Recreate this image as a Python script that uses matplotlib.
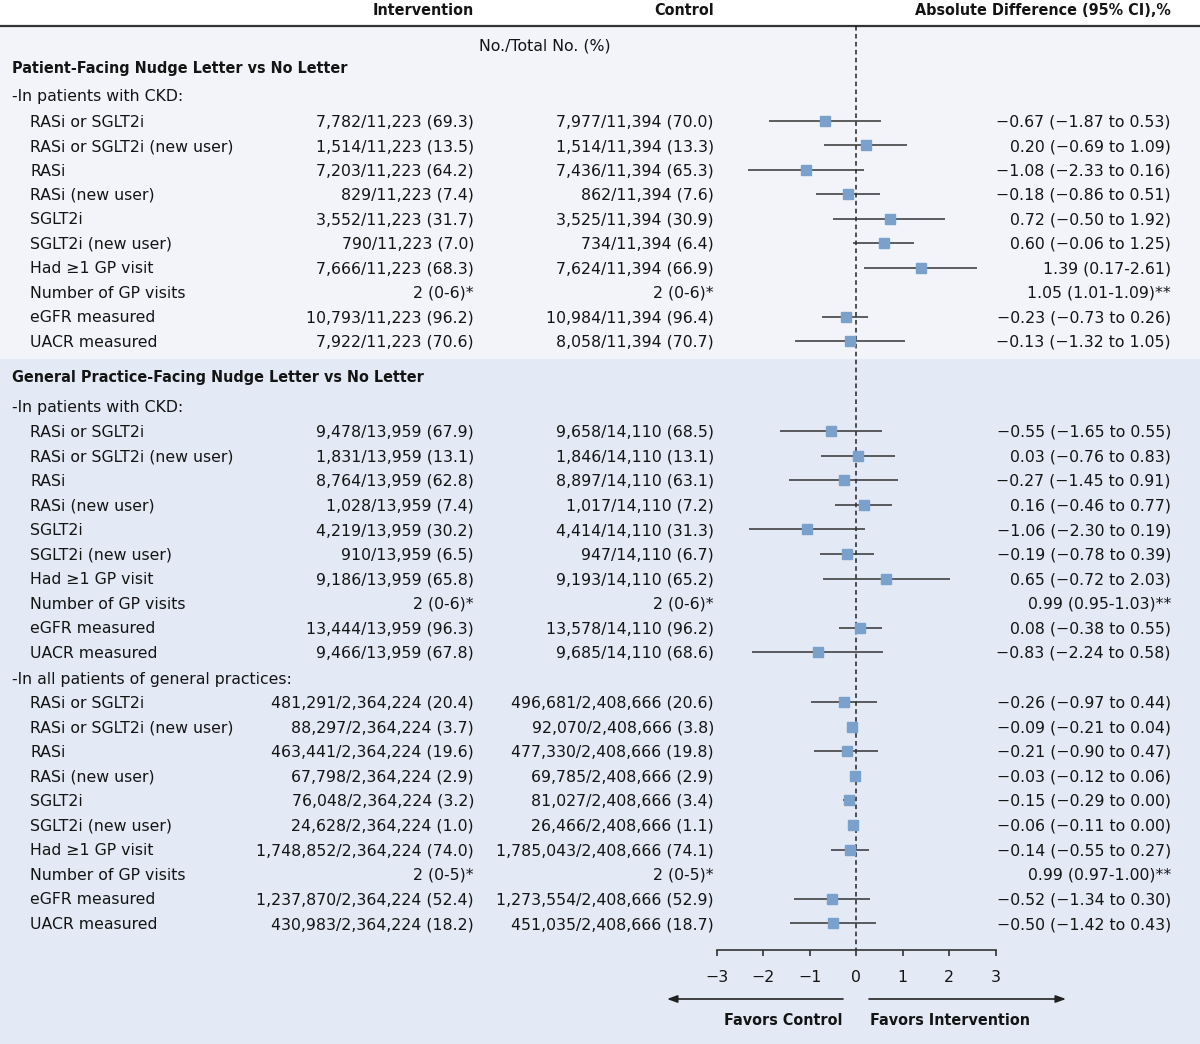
"""
plot.py - Forest plot of nudge letter trial outcomes
"""

import matplotlib
matplotlib.use("Agg")
import matplotlib.pyplot as plt
from matplotlib.patches import Rectangle
from matplotlib import font_manager

# ---- data ----
outcomes = ["RASi or SGLT2i", "RASi or SGLT2i (new user)", "RASi", "RASi (new user)",
            "SGLT2i", "SGLT2i (new user)", "Had \u22651 GP visit", "Number of GP visits",
            "eGFR measured", "UACR measured"]

# ratio outcome (median visits) is not drawn on the difference scale
plotted = [True, True, True, True, True, True, True, False, True, True]

group_titles = ["Patient-Facing Nudge Letter vs No Letter",
                "General Practice-Facing Nudge Letter vs No Letter"]
subgroups = ["-In patients with CKD:", "-In patients with CKD:",
             "-In all patients of general practices:"]

int1 = ["7,782/11,223 (69.3)", "1,514/11,223 (13.5)", "7,203/11,223 (64.2)", "829/11,223 (7.4)",
        "3,552/11,223 (31.7)", "790/11,223 (7.0)", "7,666/11,223 (68.3)", "2 (0-6)*",
        "10,793/11,223 (96.2)", "7,922/11,223 (70.6)"]
ctl1 = ["7,977/11,394 (70.0)", "1,514/11,394 (13.3)", "7,436/11,394 (65.3)", "862/11,394 (7.6)",
        "3,525/11,394 (30.9)", "734/11,394 (6.4)", "7,624/11,394 (66.9)", "2 (0-6)*",
        "10,984/11,394 (96.4)", "8,058/11,394 (70.7)"]
est1 = [-0.67, 0.20, -1.08, -0.18, 0.72, 0.60, 1.39, 1.05, -0.23, -0.13]
lo1 = [-1.87, -0.69, -2.33, -0.86, -0.50, -0.06, 0.17, 1.01, -0.73, -1.32]
hi1 = [0.53, 1.09, 0.16, 0.51, 1.92, 1.25, 2.61, 1.09, 0.26, 1.05]
ci1 = ["\u22120.67 (\u22121.87 to 0.53)", "0.20 (\u22120.69 to 1.09)", "\u22121.08 (\u22122.33 to 0.16)",
       "\u22120.18 (\u22120.86 to 0.51)", "0.72 (\u22120.50 to 1.92)", "0.60 (\u22120.06 to 1.25)",
       "1.39 (0.17-2.61)", "1.05 (1.01-1.09)**", "\u22120.23 (\u22120.73 to 0.26)",
       "\u22120.13 (\u22121.32 to 1.05)"]

int2 = ["9,478/13,959 (67.9)", "1,831/13,959 (13.1)", "8,764/13,959 (62.8)", "1,028/13,959 (7.4)",
        "4,219/13,959 (30.2)", "910/13,959 (6.5)", "9,186/13,959 (65.8)", "2 (0-6)*",
        "13,444/13,959 (96.3)", "9,466/13,959 (67.8)"]
ctl2 = ["9,658/14,110 (68.5)", "1,846/14,110 (13.1)", "8,897/14,110 (63.1)", "1,017/14,110 (7.2)",
        "4,414/14,110 (31.3)", "947/14,110 (6.7)", "9,193/14,110 (65.2)", "2 (0-6)*",
        "13,578/14,110 (96.2)", "9,685/14,110 (68.6)"]
est2 = [-0.55, 0.03, -0.27, 0.16, -1.06, -0.19, 0.65, 0.99, 0.08, -0.83]
lo2 = [-1.65, -0.76, -1.45, -0.46, -2.30, -0.78, -0.72, 0.95, -0.38, -2.24]
hi2 = [0.55, 0.83, 0.91, 0.77, 0.19, 0.39, 2.03, 1.03, 0.55, 0.58]
ci2 = ["\u22120.55 (\u22121.65 to 0.55)", "0.03 (\u22120.76 to 0.83)", "\u22120.27 (\u22121.45 to 0.91)",
       "0.16 (\u22120.46 to 0.77)", "\u22121.06 (\u22122.30 to 0.19)", "\u22120.19 (\u22120.78 to 0.39)",
       "0.65 (\u22120.72 to 2.03)", "0.99 (0.95-1.03)**", "0.08 (\u22120.38 to 0.55)",
       "\u22120.83 (\u22122.24 to 0.58)"]

int3 = ["481,291/2,364,224 (20.4)", "88,297/2,364,224 (3.7)", "463,441/2,364,224 (19.6)",
        "67,798/2,364,224 (2.9)", "76,048/2,364,224 (3.2)", "24,628/2,364,224 (1.0)",
        "1,748,852/2,364,224 (74.0)", "2 (0-5)*", "1,237,870/2,364,224 (52.4)",
        "430,983/2,364,224 (18.2)"]
ctl3 = ["496,681/2,408,666 (20.6)", "92,070/2,408,666 (3.8)", "477,330/2,408,666 (19.8)",
        "69,785/2,408,666 (2.9)", "81,027/2,408,666 (3.4)", "26,466/2,408,666 (1.1)",
        "1,785,043/2,408,666 (74.1)", "2 (0-5)*", "1,273,554/2,408,666 (52.9)",
        "451,035/2,408,666 (18.7)"]
est3 = [-0.26, -0.09, -0.21, -0.03, -0.15, -0.06, -0.14, 0.99, -0.52, -0.50]
lo3 = [-0.97, -0.21, -0.90, -0.12, -0.29, -0.11, -0.55, 0.97, -1.34, -1.42]
hi3 = [0.44, 0.04, 0.47, 0.06, 0.00, 0.00, 0.27, 1.00, 0.30, 0.43]
ci3 = ["\u22120.26 (\u22120.97 to 0.44)", "\u22120.09 (\u22120.21 to 0.04)", "\u22120.21 (\u22120.90 to 0.47)",
       "\u22120.03 (\u22120.12 to 0.06)", "\u22120.15 (\u22120.29 to 0.00)", "\u22120.06 (\u22120.11 to 0.00)",
       "\u22120.14 (\u22120.55 to 0.27)", "0.99 (0.97-1.00)**", "\u22120.52 (\u22121.34 to 0.30)",
       "\u22120.50 (\u22121.42 to 0.43)"]

x_ticks = [-3, -2, -1, 0, 1, 2, 3]

# ---- style ----
W, H = 1200, 1044
TOP_BG = "#f2f4f9"
BOT_BG = "#e3eaf5"
MARK = "#7aa0cc"
INK = "#141414"
FS = 11.3

# bold headers use a narrow bold face if one is around
cond = font_manager.FontProperties(family="DejaVu Sans", weight="bold", stretch="condensed")
if "Condensed" in font_manager.findfont(cond):
    BOLD = dict(family="DejaVu Sans", weight="bold", stretch="condensed", fontsize=11.5)
else:
    BOLD = dict(family="Roboto", weight="bold", fontsize=12.3)

fig = plt.figure(figsize=(W / 100, H / 100), dpi=100)
ax = fig.add_axes([0, 0, 1, 1])
ax.set_xlim(0, W)
ax.set_ylim(H, 0)
ax.axis("off")

# backgrounds and header rule
ax.add_patch(Rectangle((0, 26), W, 333, color=TOP_BG, lw=0, zorder=0))
ax.add_patch(Rectangle((0, 359), W, H - 359, color=BOT_BG, lw=0, zorder=0))
ax.hlines(26, 0, W, color="#333333", lw=1.6, zorder=2)

X_LABEL, X_SUB, X_INT, X_CTL, X_CI = 30, 12, 474, 714, 1171
BASE = 5.6  # half cap-height, to put text baselines on row centres


def put(x, y, s, ha="left", bold=False):
    kw = BOLD if bold else dict(fontsize=FS)
    ax.text(x, y + BASE, s, ha=ha, va="baseline", color=INK, **kw)


put(X_INT, 9, "Intervention", ha="right", bold=True)
put(X_CTL, 9, "Control", ha="right", bold=True)
put(X_CI, 9, "Absolute Difference (95% CI),%", ha="right", bold=True)
put(545, 45, "No./Total No. (%)", ha="center")

# row layout: (title, title_y, subgroup_y, first_row_y, step, ...)
blocks = [
    (group_titles[0], 67, 95, 121, 24.45, int1, ctl1, est1, lo1, hi1, ci1, subgroups[0]),
    (group_titles[1], 376, 406, 431, 24.6, int2, ctl2, est2, lo2, hi2, ci2, subgroups[1]),
    (None, None, 678, 702, 24.6, int3, ctl3, est3, lo3, hi3, ci3, subgroups[2]),
]

# forest axes: spans exactly the -3..3 scale
x0, x1 = 717, 995.5
fax = fig.add_axes([x0 / W, 0, (x1 - x0) / W, 1])
fax.set_xlim(x_ticks[0], x_ticks[-1])
fax.set_ylim(H, 0)
fax.patch.set_alpha(0)
for s in ["left", "right", "top"]:
    fax.spines[s].set_visible(False)
fax.spines["bottom"].set_position(("data", 950))
fax.spines["bottom"].set_linewidth(1.2)
fax.spines["bottom"].set_color("#333333")
fax.set_yticks([])
fax.set_xticks(x_ticks)
fax.tick_params(axis="x", direction="out", length=4.5, width=1.2, color="#333333",
                labelsize=FS, labelcolor=INK, pad=10)

fax.vlines(0, 26, 950, colors="#222222", linestyles=(0, (3, 2.2)), lw=1.1, zorder=1)

for title, ty, sy, y0, step, ivals, cvals, est, lo, hi, ci, sub in blocks:
    if title:
        put(X_SUB, ty, title, bold=True)
    put(X_SUB, sy, sub)
    ys = [y0 + i * step for i in range(len(outcomes))]
    for i, y in enumerate(ys):
        put(X_LABEL, y, outcomes[i])
        put(X_INT, y, ivals[i], ha="right")
        put(X_CTL, y, cvals[i], ha="right")
        put(X_CI, y, ci[i], ha="right")
    py = [y for y, p in zip(ys, plotted) if p]
    pe = [v for v, p in zip(est, plotted) if p]
    pl = [v for v, p in zip(lo, plotted) if p]
    ph = [v for v, p in zip(hi, plotted) if p]
    fax.hlines(py, pl, ph, colors="#333333", lw=1.1, zorder=2)
    fax.plot(pe, py, "s", ms=7.3, color=MARK, mec=MARK, zorder=3, clip_on=False)

# direction arrows
arrow = dict(arrowstyle="-|>,head_length=0.6,head_width=0.22", color="#222222", lw=1.2,
             shrinkA=0, shrinkB=0)
ax.annotate("", xy=(667, 999), xytext=(843, 999), arrowprops=arrow)
ax.annotate("", xy=(1066, 999), xytext=(869, 999), arrowprops=arrow)
put(843, 1019, "Favors Control", ha="right", bold=True)
put(870, 1019, "Favors Intervention", bold=True)

fig.savefig("out.png", dpi=100)
